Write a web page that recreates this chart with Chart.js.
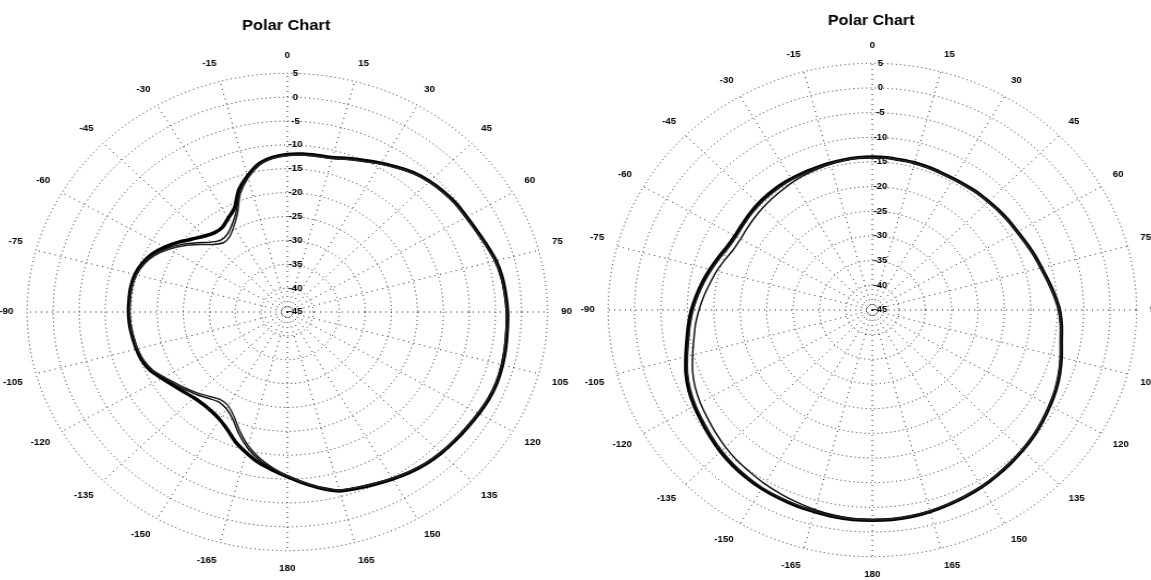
<!DOCTYPE html>
<html>
<head>
<meta charset="utf-8">
<script src="https://cdn.jsdelivr.net/npm/chart.js@4/dist/chart.umd.min.js"></script>
<style>
html,body{margin:0;padding:0;background:#fff;overflow:hidden;}
#wrap{position:relative;width:1151px;height:580px;overflow:hidden;}
.cell{position:absolute;top:0;height:580px;transform-origin:0 0;}
#c1{left:-19px;width:560px;transform:scaleX(1.09);}
#c2{left:566px;width:570px;transform:scaleX(1.071);}
</style>
</head>
<body>
<div id="wrap">
<div class="cell" id="c1"><canvas id="left"></canvas></div>
<div class="cell" id="c2"><canvas id="right"></canvas></div>
</div>
<script>
// angle categories, clockwise from top (degrees)
const angles = [0,5,10,15,20,25,30,35,40,45,50,55,60,65,70,75,80,85,90,95,100,105,110,115,120,125,130,135,140,145,150,155,160,165,170,175,180,
-175,-170,-165,-160,-155,-150,-145,-140,-135,-130,-125,-120,-115,-110,-105,-100,-95,-90,-85,-80,-75,-70,-65,-60,-55,-50,-45,-40,-35,-30,-25,-20,-15,-10,-5];

// radial scale (dB)
const rMin = -45;
const rMax = 5;
const rStep = 5;

// left chart series
const leftA = [-12,-11.8,-11.7,-11.5,-10.8,-10,-9,-8,-7,-6.3,
-5.8,-5.4,-5.2,-4.8,-4.2,-3.5,-3.1,-2.9,-2.7,-2.6,
-2.4,-2.2,-2.1,-2.2,-2.5,-2.8,-3,-3.2,-3.5,-4,
-4.6,-5.2,-5.7,-6.2,-7.5,-9,-10.5,
-11.8,-13,-14.5,-16,-17.8,-19,-19.6,-19.8,-19.6,-19,
-18.2,-17.2,-16,-15.3,-15,-14.8,-14.6,-14.5,-14.5,-14.5,
-14.7,-15.3,-16.3,-17.8,-19.5,-21.2,-22.5,-23.3,-23.3,-22.3,
-21,-17.8,-15.5,-13.5,-12.5];
const leftB = [-12.1,-11.9,-11.8,-11.6,-10.9,-10.1,-9.1,-8.1,-7.1,-6.4,
-5.9,-5.5,-5.3,-4.9,-4.3,-3.6,-3.2,-3,-2.8,-2.7,
-2.5,-2.3,-2.2,-2.3,-2.6,-2.9,-3.1,-3.3,-3.6,-4.1,
-4.7,-5.3,-5.8,-6.3,-7.6,-9.1,-10.6,
-12.1,-13.6,-15.5,-17.8,-20.2,-21.6,-22,-21.4,-20.5,-19.6,
-18.6,-17.5,-16.2,-15.5,-15.1,-14.9,-14.7,-14.6,-14.6,-14.6,
-14.9,-15.5,-16.6,-18.3,-20.3,-22.4,-24.3,-25.3,-25,-23.8,
-21.8,-18.2,-15.7,-13.7,-12.6];
const leftC = [-12.2,-12,-11.9,-11.7,-11,-10.2,-9.2,-8.2,-7.2,-6.5,
-6,-5.6,-5.4,-5,-4.4,-3.7,-3.3,-3.1,-2.9,-2.8,
-2.6,-2.4,-2.3,-2.4,-2.7,-3,-3.2,-3.4,-3.7,-4.2,
-4.8,-5.4,-5.9,-6.4,-7.7,-9.2,-10.7,
-12.3,-14,-16,-18.4,-20.8,-22.3,-22.6,-21.9,-20.9,-19.9,
-18.9,-17.7,-16.4,-15.6,-15.2,-15,-14.8,-14.7,-14.7,-14.7,
-15,-15.7,-16.9,-18.7,-20.8,-23,-25,-26,-25.7,-24.4,
-22.3,-18.6,-15.9,-13.8,-12.7];

// right chart series
const rightA = [-14,-14,-14.1,-14.1,-14.2,-14.3,-14.3,-14.2,-14,-13.9,
-13.7,-13.5,-13.3,-12.9,-12.4,-11.9,-11.2,-10.4,-9.6,-9.1,
-8.7,-8,-7.3,-6.7,-6.2,-5.7,-5.2,-4.8,-4.4,-4,
-3.6,-3.3,-3,-2.7,-2.5,-2.4,-2.4,
-2.4,-2.5,-2.7,-2.8,-3,-3.2,-3.5,-3.9,-4.4,-5,
-5.6,-6.1,-6.7,-7.5,-8.5,-9.4,-10.1,-10.8,-11.6,-12.4,
-13.2,-14,-14.7,-15,-14.9,-14.7,-14.5,-14.4,-14.3,-14.3,
-14.3,-14.3,-14.2,-14.1,-14];
const rightB = [-14.1,-14.1,-14.2,-14.2,-14.3,-14.4,-14.4,-14.3,-14.1,-14,
-13.8,-13.6,-13.4,-13,-12.5,-12,-11.3,-10.5,-9.7,-9.2,
-8.8,-8.1,-7.4,-6.8,-6.3,-5.8,-5.3,-4.9,-4.5,-4.1,
-3.7,-3.4,-3.1,-2.8,-2.6,-2.5,-2.5,
-2.6,-2.8,-3.1,-3.5,-3.9,-4.3,-4.8,-5.2,-5.7,-6.3,
-6.9,-7.4,-8,-8.8,-9.8,-10.7,-11.4,-12.2,-13,-13.8,
-14.5,-15.3,-16,-16.2,-16.1,-15.9,-15.7,-15.5,-15.3,-15,
-14.8,-14.6,-14.4,-14.2,-14.1];
const rightC = [-14.1,-14.1,-14.2,-14.2,-14.3,-14.4,-14.4,-14.3,-14.1,-14,
-13.8,-13.6,-13.4,-13,-12.5,-12,-11.3,-10.5,-9.7,-9.2,
-8.8,-8.1,-7.4,-6.8,-6.3,-5.8,-5.3,-4.9,-4.5,-4.1,
-3.7,-3.4,-3.1,-2.8,-2.6,-2.5,-2.5,
-2.5,-2.6,-2.8,-3,-3.2,-3.4,-3.8,-4.2,-4.7,-5.3,
-5.9,-6.4,-7,-7.8,-8.8,-9.7,-10.4,-11.1,-11.9,-12.7,
-13.5,-14.3,-15,-15.3,-15.2,-15,-14.8,-14.7,-14.6,-14.5,
-14.5,-14.4,-14.3,-14.2,-14.1];

const titleText = 'Polar Chart';
const fontFam = 'Arial, "Liberation Sans", sans-serif';

function makeChart(id, a, b, c, titlePad, bottomPad) {
  return new Chart(document.getElementById(id), {
    type: 'radar',
    data: {
      labels: angles.map(String),
      datasets: [
        {data: c, borderColor: '#222', borderWidth: 1.5, pointRadius: 0, fill: false, tension: 0.25},
        {data: b, borderColor: '#111', borderWidth: 1.5, pointRadius: 0, fill: false, tension: 0.25},
        {data: a, borderColor: '#000', borderWidth: 3.5, pointRadius: 0, fill: false, tension: 0.25}
      ]
    },
    options: {
      responsive: true,
      maintainAspectRatio: false,
      animation: false,
      layout: {padding: {top: 0, bottom: bottomPad, left: 4, right: 4}},
      plugins: {
        legend: {display: false},
        tooltip: {enabled: false},
        title: {display: true, text: titleText, color: '#000',
          font: {family: fontFam, size: 15, weight: 'bold'},
          padding: titlePad}
      },
      scales: {
        r: {
          min: rMin, max: rMax,
          ticks: {stepSize: rStep, showLabelBackdrop: false, color: '#000',
            font: {family: fontFam, size: 9, weight: 'bold'},
            callback: v => '      ' + v},
          grid: {circular: true, color: '#222', lineWidth: 1},
          border: {dash: [1, 3]},
          angleLines: {
            color: '#222',
            lineWidth: ctx => (ctx.index % 3 === 0 ? 1 : 0),
            borderDash: [1, 4]
          },
          pointLabels: {
            color: '#000', padding: 6,
            font: {family: fontFam, size: 9, weight: 'bold'},
            callback: (lbl, i) => (i % 3 === 0 ? lbl : '')
          }
        }
      }
    }
  });
}

makeChart('left', leftA, leftB, leftC, {top: 17, bottom: 15}, 6);
makeChart('right', rightA, rightB, rightC, {top: 12, bottom: 10}, 0);
</script>
</body>
</html>
